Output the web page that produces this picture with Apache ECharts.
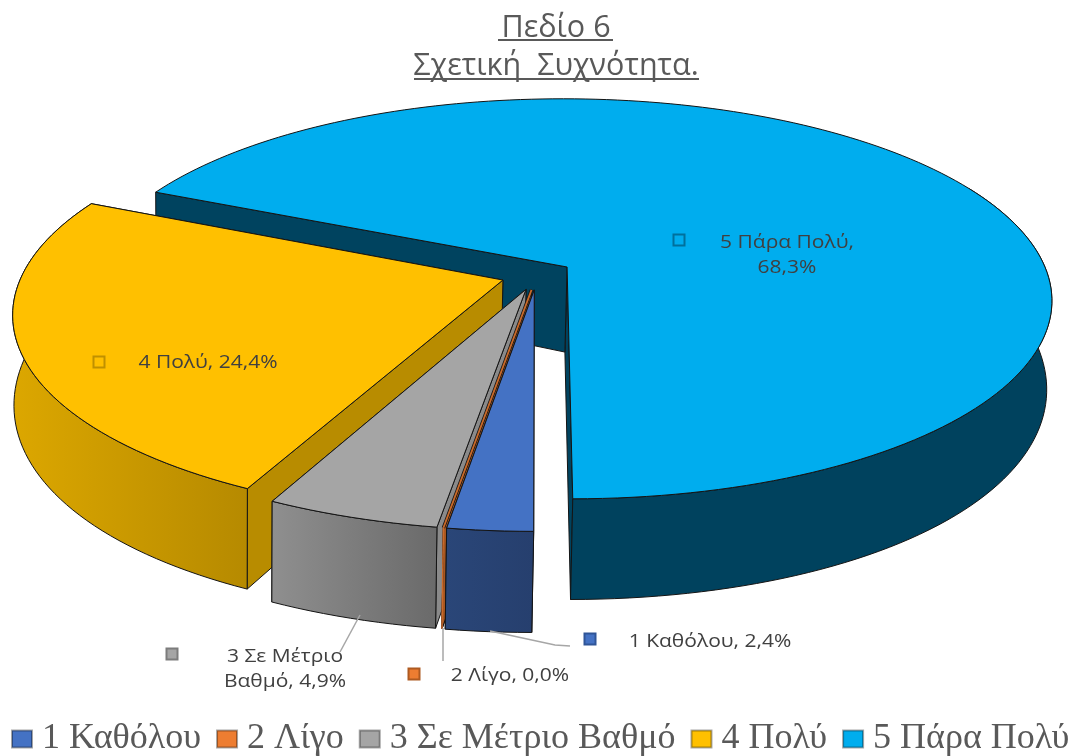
<!DOCTYPE html>
<html><head><meta charset="utf-8">
<style>html,body{margin:0;padding:0;background:#fff}#c{width:1076px;height:756px}</style>
<script src="https://cdn.jsdelivr.net/npm/echarts@6/dist/echarts.min.js"></script>
</head><body><div id="c"></div>
<script>
const categories = ['1 Καθόλου','2 Λίγο','3 Σε Μέτριο Βαθμό','4 Πολύ','5 Πάρα Πολύ'];
const percents = [2.4,0.0,4.9,24.4,68.3];
const titleLines = ['Πεδίο 6','Σχετική  Συχνότητα.'];
const topColors = ['#4472C4','#ED7D31','#A5A5A5','#FFC000','#00ADEE'];
const wallFrom = ['#2a4678','#b05c22','#8f8f8f','#dca700','#006488'];
const wallTo = ['#263f6e','#a85720','#6a6a6a','#b68a00','#00425e'];
const radial = ['#26406e','#a85720','#8a8a8a','#b88c00','#00435f'];

const startDeg = 180, explode = 0.075;
const T = {ox:537, oy:275, a:481, b:197.5, p:0.16, px:0.16};
const B = {ox:535, oy:361, a:478, b:220, p:0.12, px:0.16};
function proj(P,u,v){return [P.ox+P.a*u/(1-P.px*v),P.oy+P.b*v/(1-P.p*v)];}
const rad=d=>d*Math.PI/180;
const total=percents.reduce((a,b)=>a+b,0);
const spans=[];(function(){let a=startDeg;percents.forEach(p=>{const e=a+p/total*360;spans.push([a,e]);a=e;});})();

function renderSlice(i){
  return function(params,api){
    const [a0,a1]=spans[i], mid=rad((a0+a1)/2);
    const du=explode*Math.sin(mid), dv=-explode*Math.cos(mid);
    const pt=(P,d)=>proj(P,du+Math.sin(rad(d)),dv-Math.cos(rad(d)));
    const apex=P=>proj(P,du,dv);
    const steps=Math.max(2,Math.round((a1-a0)/1.5));
    const arcT=[],arcB=[],wallT=[],wallB=[];
    for(let k=0;k<=steps;k++){
      const d=a0+(a1-a0)*k/steps;
      arcT.push(pt(T,d));arcB.push(pt(B,d));
    }
    for(let k=steps;k>=0;k--){
      const d=a0+(a1-a0)*k/steps;
      if(Math.cos(rad(d))>=0.45) break;
      wallT.push(arcT[k]);wallB.push(arcB[k]);
    }
    const line='#141414', zero=percents[i]===0;
    const xs=wallT.map(p=>p[0]).concat(wallB.map(p=>p[0]));
    const xMin=Math.min(...xs),xMax=Math.max(...xs);
    const blue=i===4;
    const grad=zero?wallFrom[i]:{type:'linear',x:blue?arcB[0][0]:xMin,y:0,x2:blue?arcB[0][0]+240:xMax,y2:0,global:true,
      colorStops:[{offset:0,color:wallFrom[i]},{offset:1,color:wallTo[i]}]};
    const kids=[];
    const poly=(pts,fill)=>kids.push({type:'polygon',shape:{points:pts},style:{fill,stroke:line,lineWidth:1,lineJoin:'round'}});
    poly([apex(T),arcT[steps],arcB[steps],apex(B)],radial[i]);
    poly([apex(T),arcT[0],arcB[0],apex(B)],radial[i]);
    if(wallT.length>1) poly(wallT.concat(wallB.slice().reverse()),grad);
    if(zero){
      kids.push({type:'polyline',shape:{points:[apex(T),arcT[0]]},style:{stroke:line,lineWidth:3.4,fill:null}});
      kids.push({type:'polyline',shape:{points:[apex(T),arcT[0]]},style:{stroke:'#C9692A',lineWidth:1.8,fill:null}});
      kids.push({type:'polyline',shape:{points:[arcT[0],arcB[0]]},style:{stroke:'#C9692A',lineWidth:1.6,fill:null}});
    } else {
      poly([apex(T)].concat(arcT),topColors[i]);
    }
    return {type:'group',children:kids};
  };
}

const series=[4,3,2,1,0].map(i=>({
  type:'custom',name:categories[i],coordinateSystem:'none',silent:true,
  itemStyle:{color:topColors[i],borderColor:'rgba(0,0,0,0.35)',borderWidth:1},
  renderItem:renderSlice(i),data:[[percents[i]]],animation:false
}));

const pct=i=>percents[i].toFixed(1).replace('.',',')+'%';
const labelLayout=[
  {mx:590,my:639,lines:[categories[0]+', '+pct(0)],tx:710,ty:642},
  {mx:414,my:674,lines:[categories[1]+', '+pct(1)],tx:510,ty:676},
  {mx:172,my:654,lines:['3 Σε Μέτριο','Βαθμό, '+pct(2)],tx:285,ty:670},
  {mx:99,my:362,lines:[categories[3]+', '+pct(3)],tx:208,ty:363},
  {mx:679,my:240,lines:[categories[4]+',',pct(4)],tx:787,ty:256}
];
const borderDark=['#2f5597','#ae5a21','#7c7c7c','#bf9000','#00709c'];
const gfx=[];
[[[360,615],[340,652]],[[443,628],[443,661]],[[490,631],[555,645],[570,646]]].forEach(points=>{
  gfx.push({type:'polyline',z:20,shape:{points},style:{stroke:'#a6a6a6',lineWidth:1.5,fill:null}});
});
labelLayout.forEach((l,i)=>{
  gfx.push({type:'rect',z:30,shape:{x:l.mx-5.5,y:l.my-5.5,width:11,height:11},style:{fill:topColors[i],stroke:borderDark[i],lineWidth:2}});
  gfx.push({type:'text',z:30,x:l.tx,y:l.ty,scaleX:1.2,style:{x:0,y:0,text:l.lines.join('\n'),align:'center',verticalAlign:'middle',
    fill:'#404040',font:'17.5px "Open Sans"',lineHeight:25}});
});
[[498,613,40],[414,699,79]].forEach(u=>gfx.push({type:'line',z:30,shape:{x1:u[0],y1:u[2],x2:u[1],y2:u[2]},style:{stroke:'#595959',lineWidth:2}}));

const chart=echarts.init(document.getElementById('c'),null,{renderer:'canvas'});
chart.setOption({
  animation:false,backgroundColor:'#fff',
  title:{text:titleLines.join('\n'),left:551,top:4,textAlign:'center',
    textStyle:{fontFamily:'Open Sans',fontSize:30.5,fontWeight:'normal',color:'#595959',lineHeight:38}},
  legend:{data:categories,left:11,top:721,width:1150,padding:0,itemWidth:20,itemHeight:17,itemGap:15,icon:'rect',selectedMode:false,
    textStyle:{fontFamily:'Liberation Serif',fontSize:36,color:'#595959',padding:[0,0,0,5]}},
  series,graphic:{elements:gfx}
});
</script></body></html>
